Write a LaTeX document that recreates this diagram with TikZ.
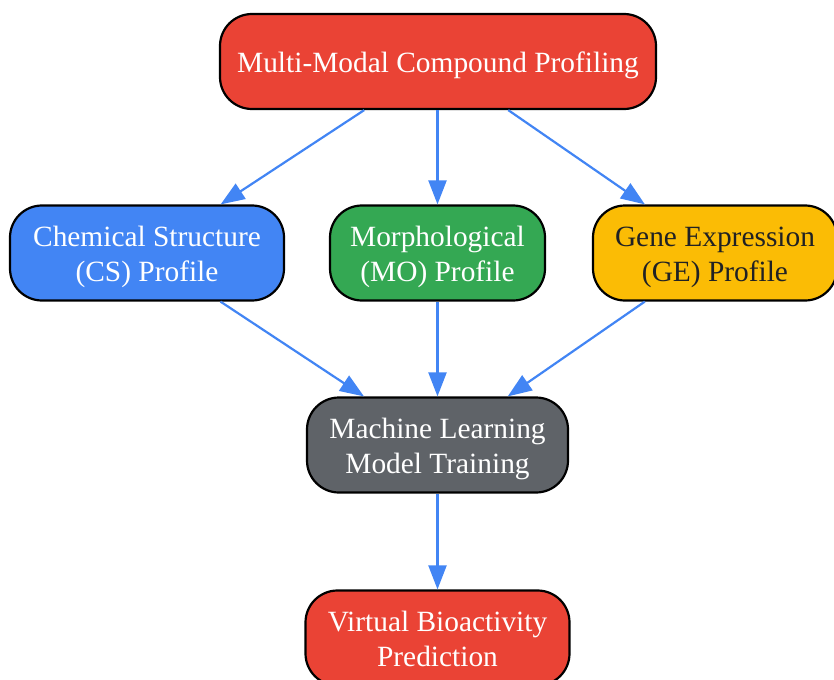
\documentclass[tikz,border=0pt]{standalone}
\usepackage{fontspec}
\setmainfont{Liberation Serif}
\usetikzlibrary{arrows.meta}
\definecolor{gred}{HTML}{EA4335}
\definecolor{gblue}{HTML}{4285F4}
\definecolor{ggreen}{HTML}{34A853}
\definecolor{gyellow}{HTML}{FBBC05}
\definecolor{ggray}{HTML}{5F6368}
\definecolor{gdark}{HTML}{202124}
\newcommand{\boxtext}[1]{\raisebox{-4bp}[\height][\depth]{\begin{tabular}{@{}c@{}}#1\end{tabular}}}
\tikzset{
  box/.style={draw=black, line width=2.2bp, rounded corners=32bp, inner sep=0pt,
    minimum height=95bp, align=center, font=\fontsize{29.5}{35}\selectfont},
  conn/.style={draw=gblue, line width=2.2bp, -{Triangle[length=24bp,width=18bp]}},
}
\begin{document}
\begin{tikzpicture}[x=1bp,y=-1bp]
\useasboundingbox (0,0) rectangle (834,680);
\node[box, fill=gred, text=white, minimum width=436bp] (top) at (438,61.5) {\boxtext{Multi-Modal Compound Profiling}};
\node[box, fill=gblue, text=white, minimum width=274bp] (cs) at (147,253) {\boxtext{Chemical Structure\\(CS) Profile}};
\node[box, fill=ggreen, text=white, minimum width=215bp] (mo) at (437.5,253) {\boxtext{Morphological\\(MO) Profile}};
\node[box, fill=gyellow, text=gdark, minimum width=244bp] (ge) at (715,253) {\boxtext{Gene Expression\\(GE) Profile}};
\node[box, fill=ggray, text=white, minimum width=261bp] (ml) at (437.5,445) {\boxtext{Machine Learning\\Model Training}};
\node[box, fill=gred, text=white, minimum width=264bp] (vb) at (437.5,638) {\boxtext{Virtual Bioactivity\\Prediction}};
\draw[conn] (top.south -| mo) -- (mo.north);
\draw[conn] (top) -- (cs);
\draw[conn] (top) -- (ge);
\draw[conn] (cs) -- (ml);
\draw[conn] (mo) -- (ml);
\draw[conn] (ge) -- (ml);
\draw[conn] (ml) -- (vb);
\end{tikzpicture}
\end{document}
